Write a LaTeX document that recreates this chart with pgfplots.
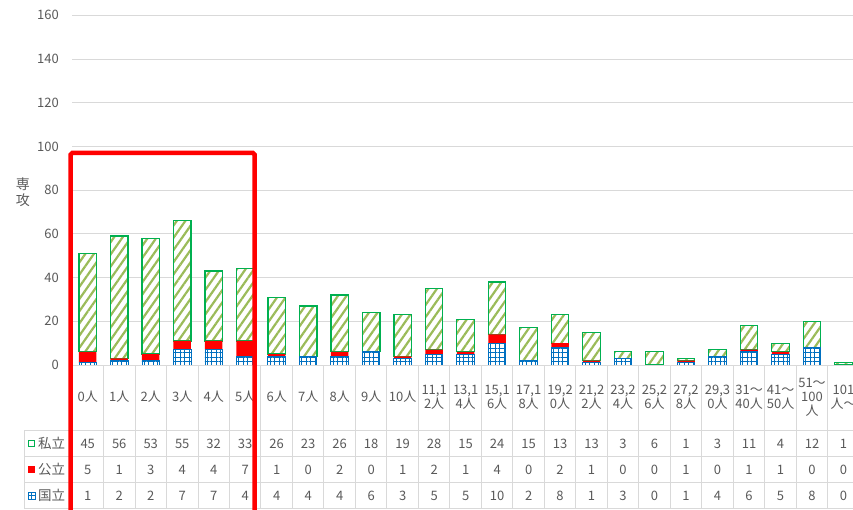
\documentclass[border=0pt]{standalone}
\usepackage{fontspec}
\setmainfont{Noto Sans CJK JP}
\usepackage{pgfplots}
\pgfplotsset{compat=1.18}
\usetikzlibrary{patterns.meta}
\definecolor{txt}{HTML}{595959}
\definecolor{gridc}{HTML}{D9D9D9}
\definecolor{pgreen}{HTML}{00B050}
\definecolor{stripe}{HTML}{9BBB59}
\definecolor{pblue}{HTML}{0070C0}
\begin{document}
\begin{tikzpicture}
\begin{axis}[
  at={(72pt,-365pt)}, anchor=south west,
  scale only axis, width=787.25pt, height=349.7pt,
  xmin=-0.5, xmax=24.5, ymin=0, ymax=160,
  ytick={0,20,...,160}, xtick=\empty,
  ymajorgrids, grid style={draw=gridc, line width=0.9pt},
  axis line style={draw=none},
  major tick length=0pt,
  yticklabel style={font=\fontsize{13pt}{14pt}\selectfont, text=txt, anchor=east, inner sep=0pt, xshift=-13pt},
  /pgf/number format/assume math mode=true,
  ybar stacked, bar width=17.5pt,
  clip=false,
]
% 国立
\addplot[preaction={fill=white}, pattern={Hatch[distance=4.5pt, line width=0.9pt]}, pattern color=pblue, draw=pblue, line width=0.9pt] coordinates {
(0,1) (1,2) (2,2) (3,7) (4,7) (5,4) (6,4) (7,4) (8,4) (9,6) (10,3) (11,5) (12,5) (13,10) (14,2) (15,8) (16,1) (17,3) (18,0) (19,1) (20,4) (21,6) (22,5) (23,8) (24,0)};
% 公立
\addplot[fill=red, draw=none] coordinates {
(0,5) (1,1) (2,3) (3,4) (4,4) (5,7) (6,1) (7,0) (8,2) (9,0) (10,1) (11,2) (12,1) (13,4) (14,0) (15,2) (16,1) (17,0) (18,0) (19,1) (20,0) (21,1) (22,1) (23,0) (24,0)};
% 私立
\addplot[preaction={fill=white}, pattern={Lines[angle=55, distance=7pt, line width=2.2pt]}, pattern color=stripe, draw=pgreen, line width=1.2pt] coordinates {
(0,45) (1,56) (2,53) (3,55) (4,32) (5,33) (6,26) (7,23) (8,26) (9,18) (10,19) (11,28) (12,15) (13,24) (14,15) (15,13) (16,13) (17,3) (18,6) (19,1) (20,3) (21,11) (22,4) (23,12) (24,1)};
\end{axis}
\begin{scope}[x=1pt,y=1pt]
% table lines
\draw[gridc, line width=0.9pt] (72,-365) -- (862,-365);
\foreach \y in {430.7,456.3,482.7,508.3} \draw[gridc, line width=0.9pt] (24,-\y) -- (862,-\y);
\draw[gridc, line width=0.9pt] (24,-430.7) -- (24,-508.3);
\foreach \k in {0,...,25} {
  \pgfmathsetmacro\xx{72+31.49*\k}
  \draw[gridc, line width=0.9pt] (\xx,-365) -- (\xx,-508.3);
}
% table text
\foreach \lab/\a/\b/\c [count=\i from 0] in {
 0人/45/5/1, 1人/56/1/2, 2人/53/3/2, 3人/55/4/7, 4人/32/4/7, 5人/33/7/4,
 6人/26/1/4, 7人/23/0/4, 8人/26/2/4, 9人/18/0/6, 10人/19/1/3,
 {11,1\\2人}/28/2/5, {13,1\\4人}/15/1/5, {15,1\\6人}/24/4/10, {17,1\\8人}/15/0/2,
 {19,2\\0人}/13/2/8, {21,2\\2人}/13/1/1, {23,2\\4人}/3/0/3, {25,2\\6人}/6/0/0,
 {27,2\\8人}/1/1/1, {29,3\\0人}/3/0/4, {31～\\40人}/11/1/6, {41～\\50人}/4/1/5,
 {51～\\100\\人}/12/0/8, {101\\人～}/1/0/0} {
  \pgfmathsetmacro\xc{72+31.49*(\i+0.5)}
  \node[font=\fontsize{13pt}{14pt}\selectfont, text=txt, align=center, inner sep=0pt] at (\xc,-397) {\lab};
  \node[font=\fontsize{13pt}{14pt}\selectfont, text=txt, inner sep=0pt] at (\xc,-443.5) {\a};
  \node[font=\fontsize{13pt}{14pt}\selectfont, text=txt, inner sep=0pt] at (\xc,-469.5) {\b};
  \node[font=\fontsize{13pt}{14pt}\selectfont, text=txt, inner sep=0pt] at (\xc,-495.5) {\c};
}
% legend keys
\filldraw[fill=white, draw=pgreen, line width=1pt] (28.5,-440) rectangle (34.5,-446);
\fill[red] (28,-466) rectangle (35,-473);
\draw[pblue, line width=0.9pt] (28,-492) rectangle (35,-499) (31.5,-492) -- (31.5,-499) (28,-495.5) -- (35,-495.5);
\node[font=\fontsize{13.5pt}{14pt}\selectfont, text=txt, anchor=west, inner sep=0pt] at (38,-443.5) {私立};
\node[font=\fontsize{13.5pt}{14pt}\selectfont, text=txt, anchor=west, inner sep=0pt] at (38,-469.5) {公立};
\node[font=\fontsize{13.5pt}{14pt}\selectfont, text=txt, anchor=west, inner sep=0pt] at (38,-495.5) {国立};
% y label
\node[font=\fontsize{14pt}{16pt}\selectfont, text=txt, align=center] at (23,-192) {専\\攻};
% red frame
\draw[red, line width=4.5pt, rounded corners=1.5pt] (70.7,-540) -- (70.7,-153) -- (254.5,-153) -- (254.5,-540);
\pgfresetboundingbox
\path[use as bounding box] (0,0) rectangle (853,-510);
\end{scope}
\end{tikzpicture}
\end{document}
